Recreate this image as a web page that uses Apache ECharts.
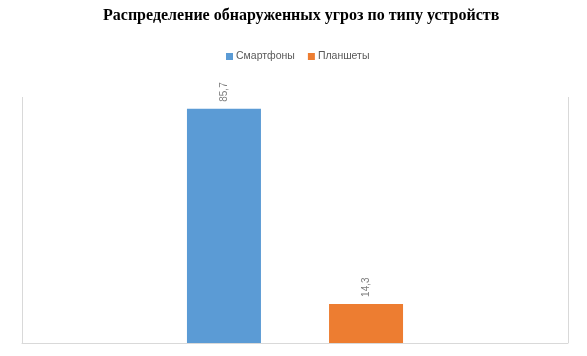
<!DOCTYPE html>
<html>
<head>
<meta charset="utf-8">
<script src="https://cdn.jsdelivr.net/npm/echarts@6/dist/echarts.min.js"></script>
<style>
html,body{margin:0;padding:0;background:#fff;}
#c{width:587px;height:356px;}
</style>
</head>
<body>
<div id="c"></div>
<script>
var titleText = 'Распределение обнаруженных угроз по типу устройств';
var categories = [''];
var seriesNames = ['Смартфоны', 'Планшеты'];
var smartphones = [85.7];
var tablets = [14.3];
var colors = ['#5b9bd5', '#ed7d31'];

var chart = echarts.init(document.getElementById('c'));
var labelCfg = {
  show: true,
  position: 'top',
  rotate: 90,
  align: 'left',
  verticalAlign: 'middle',
  distance: 7,
  color: '#7f7f7f',
  fontSize: 10,
  fontFamily: 'Liberation Sans, Arial, sans-serif',
  formatter: function (p) { return String(p.value).replace('.', ','); }
};
chart.setOption({
  animation: false,
  backgroundColor: '#fff',
  title: {
    text: titleText,
    left: 103,
    top: 8,
    padding: 0,
    textStyle: {
      fontFamily: 'Liberation Serif, Times New Roman, serif',
      fontWeight: 'bold',
      fontSize: 16,
      color: '#000'
    }
  },
  legend: {
    top: 46,
    left: 221,
    icon: 'rect',
    itemWidth: 7,
    itemHeight: 7,
    itemGap: 13,
    textStyle: { color: '#595959', fontSize: 10.5, fontFamily: 'Liberation Sans, Arial, sans-serif', padding: [0, 0, 0, -2] },
    data: seriesNames
  },
  grid: { left: 22, right: 19, top: 97, bottom: 13 },
  xAxis: {
    type: 'category',
    data: categories,
    axisLine: { show: true, lineStyle: { color: '#d9d9d9', width: 1 } },
    axisTick: { show: false },
    axisLabel: { show: false },
    splitLine: { show: true, interval: 0, lineStyle: { color: '#d9d9d9', width: 1 } }
  },
  yAxis: {
    type: 'value',
    min: 0,
    max: 90,
    show: false,
    splitLine: { show: false }
  },
  series: [
    {
      name: seriesNames[0],
      type: 'bar',
      data: smartphones,
      barWidth: 74,
      barGap: '92%',
      itemStyle: { color: colors[0] },
      label: labelCfg
    },
    {
      name: seriesNames[1],
      type: 'bar',
      data: tablets,
      barWidth: 74,
      barGap: '92%',
      itemStyle: { color: colors[1] },
      label: labelCfg
    }
  ]
});
</script>
</body>
</html>
